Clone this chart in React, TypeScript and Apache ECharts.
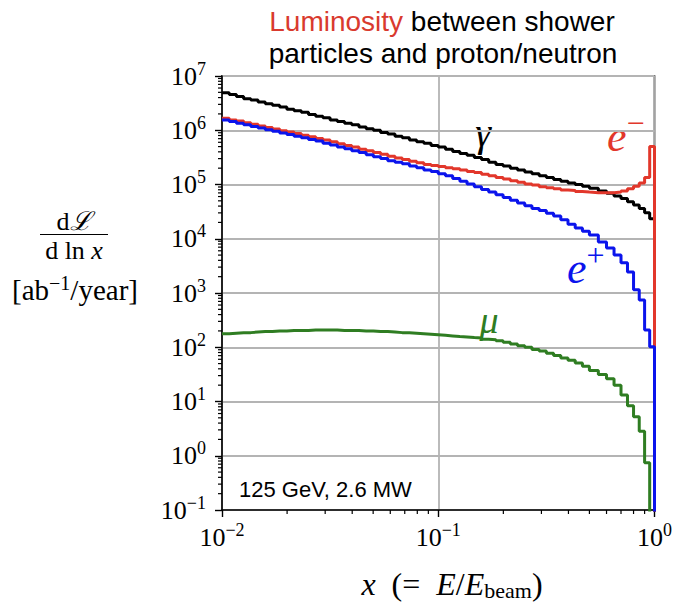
import React, { useEffect, useRef } from "react";
import * as echarts from "echarts";

// Histogram bin edges in x = E/E_beam: log bins below 0.5, then bins of 0.05 up to 1
const BIN_EDGES = [
  0.01, 0.0108, 0.01166, 0.01259, 0.01359, 0.01468, 0.01585, 0.01711, 0.01848, 0.01995,
  0.02154, 0.02326, 0.02512, 0.02712, 0.02929, 0.03162, 0.03415, 0.03687, 0.03981, 0.04299,
  0.04642, 0.05012, 0.05412, 0.05843, 0.0631, 0.06813, 0.07356, 0.07943, 0.08577, 0.09261,
  0.1, 0.108, 0.1166, 0.1259, 0.1359, 0.1468, 0.1585, 0.1711, 0.1848, 0.1995,
  0.2154, 0.2326, 0.2512, 0.2712, 0.2929, 0.3162, 0.3415, 0.3687, 0.3981, 0.4299,
  0.4642, 0.5, 0.55, 0.6, 0.65, 0.7, 0.75, 0.8, 0.85, 0.9, 0.95, 1.0,
];

// dL/dlnx per bin [ab^-1/year]
const PHOTON = [
  4.9e6, 4.57e6, 4.17e6, 3.8e6, 3.63e6, 3.31e6, 3.09e6, 2.88e6, 2.69e6, 2.45e6,
  2.29e6, 2.14e6, 1.95e6, 1.82e6, 1.7e6, 1.55e6, 1.45e6, 1.35e6, 1.26e6, 1.15e6,
  1.07e6, 1.0e6, 9.12e5, 8.51e5, 7.76e5, 7.24e5, 6.61e5, 6.17e5, 5.75e5, 5.25e5,
  4.9e5, 4.47e5, 4.07e5, 3.72e5, 3.47e5, 3.16e5, 2.88e5, 2.57e5, 2.34e5, 2.19e5,
  2.0e5, 1.86e5, 1.7e5, 1.58e5, 1.45e5, 1.35e5, 1.23e5, 1.15e5, 1.07e5, 1.0e5,
  9.33e4, 8.51e4, 7.59e4, 6.92e4, 6.17e4, 5.5e4, 4.79e4, 4.17e4, 3.63e4, 3.02e4,
  2.34e4,
];
const ELECTRON = [
  1.66e6, 1.55e6, 1.48e6, 1.38e6, 1.29e6, 1.2e6, 1.12e6, 1.05e6, 9.77e5, 9.33e5,
  8.71e5, 8.13e5, 7.59e5, 7.08e5, 6.61e5, 6.17e5, 5.62e5, 5.25e5, 4.9e5, 4.47e5,
  4.17e5, 3.89e5, 3.63e5, 3.31e5, 3.09e5, 2.88e5, 2.69e5, 2.51e5, 2.34e5, 2.24e5,
  2.14e5, 2.04e5, 1.95e5, 1.86e5, 1.74e5, 1.66e5, 1.55e5, 1.45e5, 1.35e5, 1.26e5,
  1.17e5, 1.1e5, 1.02e5, 9.77e4, 9.12e4, 8.71e4, 8.32e4, 7.94e4, 7.76e4, 7.41e4,
  7.24e4, 7.08e4, 7.08e4, 7.08e4, 7.24e4, 7.59e4, 8.32e4, 9.33e4, 1.07e5, 1.35e5,
  5.01e5,
];
const POSITRON = [
  1.55e6, 1.45e6, 1.35e6, 1.26e6, 1.17e6, 1.1e6, 1.02e6, 9.55e5, 8.91e5, 8.32e5,
  7.76e5, 7.24e5, 6.76e5, 6.31e5, 5.75e5, 5.37e5, 4.9e5, 4.57e5, 4.17e5, 3.89e5,
  3.55e5, 3.24e5, 3.02e5, 2.75e5, 2.57e5, 2.4e5, 2.19e5, 2.04e5, 1.86e5, 1.74e5,
  1.58e5, 1.45e5, 1.29e5, 1.15e5, 1.02e5, 9.12e4, 8.13e4, 7.24e4, 6.46e4, 5.75e4,
  5.13e4, 4.57e4, 4.07e4, 3.63e4, 3.31e4, 2.95e4, 2.63e4, 2.24e4, 1.86e4, 1.58e4,
  1.38e4, 1.17e4, 8.71e3, 6.76e3, 5.01e3, 3.63e3, 2.45e3, 1.15e3, 741, 209,
  102,
];
const MUON = [
  178, 182, 186, 186, 191, 195, 195, 200, 200, 204,
  204, 204, 209, 209, 209, 209, 204, 204, 204, 200,
  200, 195, 195, 191, 186, 186, 182, 178, 174, 170,
  166, 162, 158, 155, 151, 148, 141, 138, 132, 123,
  115, 107, 100, 91.2, 85.1, 77.6, 70.8, 63.1, 57.5, 51.3,
  44.7, 37.2, 31.6, 26.3, 20.0, 13.2, 8.32, 5.25, 2.82, 0.741,
  0.03,
];

const X_DECADES = [0.01, 0.1];
const Y_DECADES = [0.1, 1, 10, 100, 1e3, 1e4, 1e5, 1e6];
const MINOR_MANTISSAS = [2, 3, 4, 5, 6, 7, 8, 9];

const COLORS = {
  photon: "#000000",
  electron: "#e2372b",
  positron: "#0b14ec",
  muon: "#2f7d22",
};

const SERIF = "'Liberation Serif', 'DejaVu Serif', serif";
const SANS = "'Liberation Sans', Arial, sans-serif";

// A step outline: each bin drawn from its left edge to the next edge, then dropping at x = 1
function stepPoints(values: number[]): number[][] {
  const pts = values.map((v, i) => [BIN_EDGES[i], v]);
  pts.push([BIN_EDGES[BIN_EDGES.length - 1], values[values.length - 1]]);
  pts.push([BIN_EDGES[BIN_EDGES.length - 1], 1e-4]);
  return pts;
}

function powLabel(v: number): string {
  const e = Math.round(Math.log10(v));
  const s = e < 0 ? "\u2212" + -e : String(e);
  return `{b|10}{s|${s}}`;
}

const tickRich = {
  b: { fontFamily: SERIF, fontSize: 26, color: "#000", lineHeight: 32 },
  s: { fontFamily: SERIF, fontSize: 18, color: "#000", padding: [0, 0, 15, 0] },
};

export default function App() {
  const ref = useRef<HTMLDivElement>(null);

  useEffect(() => {
    if (!ref.current) return;
    const chart = echarts.init(ref.current, undefined, { renderer: "svg" });

    const xMinor: number[][] = [];
    X_DECADES.forEach((d) => MINOR_MANTISSAS.forEach((m) => xMinor.push([d * m, 0.1])));
    const yMinor: number[][] = [];
    Y_DECADES.forEach((d) => MINOR_MANTISSAS.forEach((m) => yMinor.push([0.01, d * m])));

    const lineSeries = (name: string, values: number[], color: string, z: number) => ({
      name,
      type: "line",
      data: stepPoints(values),
      step: "end",
      symbol: "none",
      clip: true,
      z,
      lineStyle: { color, width: 3 },
    });

    const minorTickSeries = (data: number[][], horizontal: boolean) => ({
      type: "custom",
      data,
      clip: false,
      silent: true,
      z: 5,
      renderItem: (_params: any, api: any) => {
        const p = api.coord([api.value(0), api.value(1)]);
        return {
          type: "line",
          shape: horizontal
            ? { x1: p[0] - 4, y1: p[1], x2: p[0], y2: p[1] }
            : { x1: p[0], y1: p[1], x2: p[0], y2: p[1] + 4 },
          style: { stroke: "#000", lineWidth: 1.2 },
        };
      },
    });

    chart.setOption({
      animation: false,
      backgroundColor: "#fff",
      grid: {
        left: 222,
        right: 17,
        top: 76,
        bottom: 94,
        show: true,
        borderColor: "#000",
        borderWidth: 1.6,
        backgroundColor: "transparent",
      },
      xAxis: {
        type: "log",
        logBase: 10,
        min: 0.01,
        max: 1,
        splitNumber: 2,
        axisLine: { show: true, onZero: false, lineStyle: { color: "#000", width: 1.6 } },
        axisTick: { show: true, length: 7, lineStyle: { color: "#000", width: 1.4 } },
        splitLine: { show: true, lineStyle: { color: "#b4b4b4", width: 1.8 } },
        axisLabel: { margin: 11, formatter: powLabel, rich: tickRich },
      },
      yAxis: {
        type: "log",
        logBase: 10,
        min: 0.1,
        max: 1e7,
        splitNumber: 8,
        axisLine: { show: true, onZero: false, lineStyle: { color: "#000", width: 1.6 } },
        axisTick: { show: true, length: 7, lineStyle: { color: "#000", width: 1.4 } },
        splitLine: { show: true, lineStyle: { color: "#b4b4b4", width: 1.8 } },
        axisLabel: { margin: 16, formatter: powLabel, rich: tickRich },
      },
      series: [
        lineSeries("γ", PHOTON, COLORS.photon, 2),
        lineSeries("e−", ELECTRON, COLORS.electron, 3),
        lineSeries("e+", POSITRON, COLORS.positron, 4),
        lineSeries("μ", MUON, COLORS.muon, 4),
        minorTickSeries(xMinor, false),
        minorTickSeries(yMinor, true),
      ],
      graphic: [
        {
          type: "text",
          x: 442,
          y: 21,
          style: {
            text: "{r|Luminosity}{k| between shower}",
            align: "center",
            verticalAlign: "middle",
            rich: {
              r: { fontFamily: SANS, fontSize: 28, fill: "#d93a2e" },
              k: { fontFamily: SANS, fontSize: 28, fill: "#000" },
            },
          },
        },
        {
          type: "text",
          x: 443,
          y: 53,
          style: {
            text: "particles and proton/neutron",
            align: "center",
            verticalAlign: "middle",
            fontFamily: SANS,
            fontSize: 28,
            fill: "#000",
          },
        },
        {
          type: "text",
          x: 239,
          y: 489,
          style: {
            text: "125 GeV, 2.6 MW",
            align: "left",
            verticalAlign: "middle",
            fontFamily: SANS,
            fontSize: 22,
            fill: "#000",
          },
        },
        // Curve labels
        {
          type: "text",
          x: 483,
          y: 132,
          style: {
            text: "γ",
            align: "center",
            verticalAlign: "middle",
            fontFamily: SERIF,
            fontStyle: "italic",
            fontSize: 40,
            fill: COLORS.photon,
          },
        },
        {
          type: "text",
          x: 607,
          y: 136,
          style: {
            text: "{e|e}{s|\u2212}",
            align: "left",
            verticalAlign: "middle",
            rich: {
              e: { fontFamily: SERIF, fontStyle: "italic", fontSize: 44, fill: COLORS.electron },
              s: { fontFamily: SERIF, fontSize: 32, fill: COLORS.electron, padding: [0, 0, 26, 0] },
            },
          },
        },
        {
          type: "text",
          x: 567,
          y: 268,
          style: {
            text: "{e|e}{s|+}",
            align: "left",
            verticalAlign: "middle",
            rich: {
              e: { fontFamily: SERIF, fontStyle: "italic", fontSize: 44, fill: COLORS.positron },
              s: { fontFamily: SERIF, fontSize: 32, fill: COLORS.positron, padding: [0, 0, 26, 0] },
            },
          },
        },
        {
          type: "text",
          x: 489,
          y: 320,
          style: {
            text: "μ",
            align: "center",
            verticalAlign: "middle",
            fontFamily: SERIF,
            fontStyle: "italic",
            fontSize: 38,
            fill: COLORS.muon,
          },
        },
        // y-axis title: dL / d ln x  [ab^-1/year]
        {
          type: "text",
          x: 74,
          y: 221,
          style: {
            text: "{r|d}{l|\u2112}",
            align: "center",
            verticalAlign: "middle",
            rich: {
              r: { fontFamily: SERIF, fontSize: 26, fill: "#000" },
              l: { fontFamily: SERIF, fontStyle: "italic", fontSize: 26, fill: "#000" },
            },
          },
        },
        {
          type: "line",
          shape: { x1: 40, y1: 234.5, x2: 108, y2: 234.5 },
          style: { stroke: "#000", lineWidth: 1.2 },
        },
        {
          type: "text",
          x: 74,
          y: 250,
          style: {
            text: "{r|d ln }{i|x}",
            align: "center",
            verticalAlign: "middle",
            rich: {
              r: { fontFamily: SERIF, fontSize: 26, fill: "#000" },
              i: { fontFamily: SERIF, fontStyle: "italic", fontSize: 26, fill: "#000" },
            },
          },
        },
        {
          type: "text",
          x: 75,
          y: 290,
          style: {
            text: "{r|[ab}{s|\u22121}{r|/year]}",
            align: "center",
            verticalAlign: "middle",
            rich: {
              r: { fontFamily: SERIF, fontSize: 29, fill: "#000", lineHeight: 34 },
              s: { fontFamily: SERIF, fontSize: 20, fill: "#000", padding: [0, 0, 15, 0] },
            },
          },
        },
        // x-axis title: x (= E/E_beam)
        {
          type: "text",
          x: 452,
          y: 584,
          style: {
            text: "{i|x}{r|\u2002(=\u2002}{i|E}{r|/}{i|E}{b|beam}{r|)}",
            align: "center",
            verticalAlign: "middle",
            rich: {
              i: { fontFamily: SERIF, fontStyle: "italic", fontSize: 32, fill: "#000", lineHeight: 38 },
              r: { fontFamily: SERIF, fontSize: 32, fill: "#000", lineHeight: 38 },
              b: { fontFamily: SERIF, fontSize: 22, fill: "#000", padding: [12, 0, 0, 0] },
            },
          },
        },
      ],
    });

    return () => chart.dispose();
  }, []);

  return (
    <div
      ref={ref}
      style={{ position: "fixed", left: 0, top: 0, width: 675, height: 604, background: "#fff" }}
    />
  );
}
